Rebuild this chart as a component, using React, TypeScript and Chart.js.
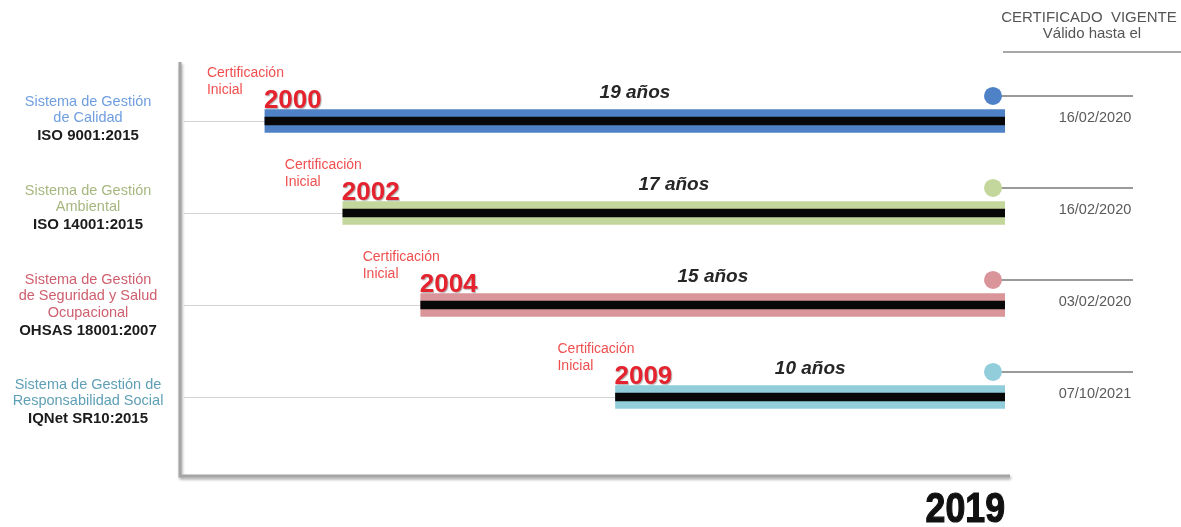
import React, { useEffect, useRef } from "react";
import { Chart, registerables } from "chart.js";

Chart.register(...registerables);

const FONT = '"Liberation Sans", Arial, Helvetica, sans-serif';

// ---- data ----
const systemLines = [
  ["Sistema de Gestión", "de Calidad"],
  ["Sistema de Gestión", "Ambiental"],
  ["Sistema de Gestión", "de Seguridad y Salud", "Ocupacional"],
  ["Sistema de Gestión de", "Responsabilidad Social"],
];
const standards = ["ISO 9001:2015", "ISO 14001:2015", "OHSAS 18001:2007", "IQNet SR10:2015"];
const startYears = [2000, 2002, 2004, 2009];
const endYear = 2019;
const durationLabels = ["19 años", "17 años", "15 años", "10 años"];
const validUntil = ["16/02/2020", "16/02/2020", "03/02/2020", "07/10/2021"];
const barColors = ["#4f81c7", "#c3d69b", "#d9959a", "#92cddc"];
const labelColors = ["#6f9ee0", "#a7b77f", "#cf5f6e", "#5f9fb6"];
const firstLineOffsets = [-19, -22, -25, -12];
const headerLines = ["CERTIFICADO  VIGENTE", "Válido hasta el"];
const initialLabel = ["Certificación", "Inicial"];

export default function App() {
  const ref = useRef<HTMLCanvasElement>(null);

  useEffect(() => {
    const canvas = ref.current;
    if (!canvas) return;
    const rows = startYears.map((s, i) => ({ x: [s, endYear], y: i }));

    const decor = {
      id: "timelineDecor",
      beforeDatasetsDraw(chart: any) {
        const ctx = chart.ctx;
        const { left, right, top, bottom } = chart.chartArea;
        const meta = chart.getDatasetMeta(1);
        ctx.save();
        ctx.strokeStyle = "#d2d2d2";
        ctx.lineWidth = 1;
        meta.data.forEach((bar: any) => {
          const p = bar.getProps(["x", "y", "base"], true);
          const yy = Math.round(p.y) + 0.5;
          ctx.beginPath();
          ctx.moveTo(left + 4, yy);
          ctx.lineTo(Math.min(p.base, p.x), yy);
          ctx.stroke();
        });
        ctx.strokeStyle = "#a5a5a5";
        ctx.lineWidth = 3;
        ctx.shadowColor = "rgba(0,0,0,0.35)";
        ctx.shadowBlur = 3;
        ctx.shadowOffsetX = 1;
        ctx.shadowOffsetY = 2;
        ctx.beginPath();
        ctx.moveTo(left, top);
        ctx.lineTo(left, bottom);
        ctx.lineTo(right + 5, bottom);
        ctx.stroke();
        ctx.restore();
      },
      afterDatasetsDraw(chart: any) {
        const ctx = chart.ctx;
        const meta = chart.getDatasetMeta(1);
        ctx.save();
        ctx.textBaseline = "middle";

        // header
        ctx.fillStyle = "#555";
        ctx.font = `15px ${FONT}`;
        ctx.textAlign = "center";
        ctx.fillText(headerLines[0], 1089, 18);
        ctx.fillText(headerLines[1], 1092, 34);
        ctx.strokeStyle = "#8a8a8a";
        ctx.lineWidth = 1.5;
        ctx.beginPath();
        ctx.moveTo(1003, 52);
        ctx.lineTo(1181, 52);
        ctx.stroke();

        meta.data.forEach((bar: any, i: number) => {
          const p = bar.getProps(["x", "y", "base"], true);
          const start = Math.min(p.base, p.x);
          const end = Math.max(p.base, p.x);
          const cy = p.y;

          // left labels
          ctx.textAlign = "center";
          ctx.fillStyle = labelColors[i];
          ctx.font = `14.5px ${FONT}`;
          let ly = cy + firstLineOffsets[i];
          systemLines[i].forEach((t) => {
            ctx.fillText(t, 88, ly);
            ly += 16.5;
          });
          ly += 1;
          ctx.fillStyle = "#1c1c1c";
          ctx.font = `bold 15px ${FONT}`;
          ctx.fillText(standards[i], 88, ly);

          // initial certification
          ctx.textAlign = "left";
          ctx.fillStyle = "#f04f4f";
          ctx.font = `14px ${FONT}`;
          ctx.fillText(initialLabel[0], start - 58, cy - 48);
          ctx.fillText(initialLabel[1], start - 58, cy - 31);

          ctx.save();
          ctx.fillStyle = "#e5232e";
          ctx.font = `bold 26px ${FONT}`;
          ctx.shadowColor = "rgba(0,0,0,0.3)";
          ctx.shadowOffsetX = 1;
          ctx.shadowOffsetY = 1;
          ctx.shadowBlur = 1;
          ctx.fillText(String(startYears[i]), start - 1, cy - 20);
          ctx.restore();

          // duration
          ctx.textAlign = "center";
          ctx.fillStyle = "#262626";
          ctx.font = `italic bold 19px ${FONT}`;
          ctx.fillText(durationLabels[i], (start + end) / 2, cy - 28);

          // marker + line
          const mx = end - 12;
          const my = cy - 25;
          ctx.strokeStyle = "#9a9a9a";
          ctx.lineWidth = 2;
          ctx.beginPath();
          ctx.moveTo(mx, my);
          ctx.lineTo(1133, my);
          ctx.stroke();
          ctx.fillStyle = barColors[i];
          ctx.beginPath();
          ctx.arc(mx, my, 9, 0, Math.PI * 2);
          ctx.fill();

          // valid until
          ctx.fillStyle = "#5a5a5a";
          ctx.font = `14.5px ${FONT}`;
          ctx.fillText(validUntil[i], 1095, cy - 3);
        });

        // end year
        const endPx = chart.scales.x.getPixelForValue(endYear);
        ctx.save();
        ctx.translate(endPx, 522);
        ctx.scale(0.85, 1);
        ctx.textAlign = "right";
        ctx.textBaseline = "alphabetic";
        ctx.fillStyle = "#111";
        ctx.strokeStyle = "#111";
        ctx.lineWidth = 1.2;
        ctx.font = `bold 42px ${FONT}`;
        ctx.fillText(String(endYear), 0, 0);
        ctx.strokeText(String(endYear), 0, 0);
        ctx.restore();

        ctx.restore();
      },
    };

    const chart = new Chart(canvas, {
      type: "bar",
      data: {
        datasets: [
          {
            label: "core",
            data: rows as any,
            backgroundColor: "#080808",
            barThickness: 8,
            grouped: false,
            order: 1,
            borderWidth: 0,
          } as any,
          {
            label: "span",
            data: rows as any,
            backgroundColor: barColors,
            barThickness: 23,
            grouped: false,
            order: 2,
            borderWidth: 0,
          } as any,
        ],
      },
      options: {
        indexAxis: "y",
        animation: false,
        responsive: true,
        maintainAspectRatio: false,
        devicePixelRatio: 1,
        layout: { padding: { left: 180, right: 176, top: 62, bottom: 51 } },
        plugins: { legend: { display: false }, tooltip: { enabled: false } },
        scales: {
          x: { type: "linear", min: 1997.82, max: endYear, display: false, offset: false },
          y: { type: "linear", min: -0.641, max: 3.859, reverse: true, display: false, offset: false },
        },
      },
      plugins: [decor],
    });
    return () => chart.destroy();
  }, []);

  return (
    <div style={{ position: "fixed", left: 0, top: 0, width: 1181, height: 527, background: "#fff" }}>
      <canvas ref={ref} />
    </div>
  );
}
